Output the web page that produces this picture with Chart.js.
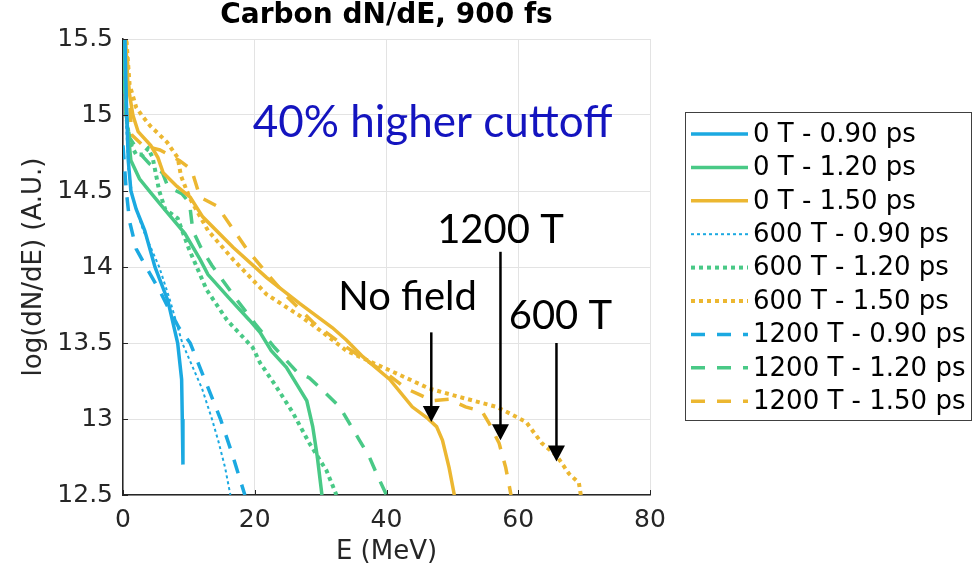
<!DOCTYPE html>
<html>
<head>
<meta charset="utf-8">
<script src="https://cdn.jsdelivr.net/npm/chart.js@4"></script>
<style>
  body { margin: 0; background: #fff; }
  canvas { display: block; }
</style>
</head>
<body>
<canvas id="graphe" width="973" height="571"></canvas>
<script>
// energies (MeV) and log(dN/dE), one pair of arrays per run
let e_0T_090 = [0, 0.3, 0.5, 0.8, 1.2, 2, 3.3, 4.85, 6.8, 8.3, 8.9, 9.0, 9.1];
let y_0T_090 = [15.9, 15.5, 15.1, 14.7, 14.5, 14.38, 14.24, 14.0, 13.78, 13.5, 13.26, 13.0, 12.7];

let e_0T_120 = [0, 0.3, 0.5, 1.2, 2.5, 4.2, 6.5, 9.4, 11.7, 12.9, 16, 19.2, 20.8, 22.5, 24.8, 26.5, 27.9, 28.8, 29.5, 30.2];
let y_0T_120 = [15.8, 15.3, 15.0, 14.7, 14.58, 14.49, 14.37, 14.22, 14.05, 13.95, 13.8, 13.65, 13.57, 13.45, 13.34, 13.22, 13.12, 12.95, 12.75, 12.5];

let e_0T_150 = [0, 0.4, 0.75, 1.5, 2.3, 4.2, 5.3, 6.1, 8.2, 10.2, 12.1, 16.7, 21.8, 26.8, 31.8, 33.9, 36.4, 40.5, 43.9, 46.1, 47.6, 48.5, 49.5, 50.3];
let y_0T_150 = [16.0, 15.5, 15.2, 15.0, 14.89, 14.8, 14.72, 14.62, 14.53, 14.46, 14.33, 14.13, 13.93, 13.76, 13.6, 13.52, 13.41, 13.26, 13.08, 13.01, 12.95, 12.86, 12.68, 12.5];

let e_600T_090 = [0, 0.4, 0.8, 1.5, 3, 5.5, 7, 9, 10.5, 12, 13.5, 14.5, 15.5, 16.3];
let y_600T_090 = [15.6, 15.0, 14.65, 14.45, 14.25, 14.0, 13.8, 13.5, 13.35, 13.2, 13.0, 12.85, 12.68, 12.5];

let e_600T_120 = [0, 0.5, 1, 2, 3, 3.8, 4.5, 5.5, 6.4, 8.3, 10, 12.7, 15.8, 19.7, 20.8, 23.3, 25.8, 28.3, 30.9, 32.4];
let y_600T_120 = [15.6, 15.0, 14.82, 14.74, 14.74, 14.78, 14.72, 14.5, 14.38, 14.32, 14.12, 13.85, 13.65, 13.47, 13.37, 13.21, 13.04, 12.84, 12.66, 12.5];

let e_600T_150 = [0, 0.5, 1, 2, 3, 4.1, 5.3, 6.7, 8.3, 8.8, 9.7, 10.3, 12.9, 16.7, 21.8, 26.8, 29.4, 33.9, 36.4, 41.5, 46.5, 51.5, 56.7, 59, 61.2, 63.6, 65.8, 67.7, 69.2, 69.5];
let y_600T_150 = [15.8, 15.5, 15.2, 15.05, 14.99, 14.93, 14.88, 14.82, 14.72, 14.6, 14.5, 14.44, 14.24, 14.05, 13.82, 13.68, 13.6, 13.45, 13.4, 13.3, 13.2, 13.14, 13.08, 13.03, 12.98, 12.84, 12.76, 12.64, 12.58, 12.5];

let e_1200T_090 = [0, 0.5, 1, 2, 3.5, 5.5, 7, 8.5, 10.2, 12.5, 14.8, 16.5, 18.5];
let y_1200T_090 = [14.8, 14.5, 14.3, 14.12, 14.0, 13.85, 13.72, 13.6, 13.5, 13.25, 13.0, 12.78, 12.5];

let e_1200T_120 = [0, 0.5, 1, 2.5, 4, 6, 6.8, 9, 10.1, 10.6, 11.8, 13.5, 17, 20, 23, 26.4, 28.3, 29.8, 32.9, 34.4, 35.9, 37.4, 38.6, 40];
let y_1200T_120 = [15.4, 15.0, 14.85, 14.75, 14.68, 14.62, 14.53, 14.48, 14.42, 14.24, 14.13, 14.01, 13.8, 13.63, 13.47, 13.31, 13.27, 13.21, 13.08, 12.97, 12.86, 12.75, 12.63, 12.5];

let e_1200T_150 = [0, 0.5, 1, 1.3, 3, 5.6, 8.6, 10.4, 11.7, 14.3, 16.7, 18.9, 21.8, 25, 29, 33, 36.4, 40, 43, 45, 47, 49.5, 52, 54.5, 55.6, 57.1, 58.1, 58.9];
let y_1200T_150 = [15.9, 15.5, 15.1, 14.87, 14.8, 14.77, 14.7, 14.64, 14.46, 14.4, 14.25, 14.11, 13.96, 13.8, 13.63, 13.5, 13.4, 13.3, 13.2, 13.16, 13.12, 13.13, 13.08, 13.05, 12.97, 12.84, 12.68, 12.5];

let labels = ["0 T - 0.90 ps", "0 T - 1.20 ps", "0 T - 1.50 ps",
              "600 T - 0.90 ps", "600 T - 1.20 ps", "600 T - 1.50 ps",
              "1200 T - 0.90 ps", "1200 T - 1.20 ps", "1200 T - 1.50 ps"];

let xTicks = [0, 20, 40, 60, 80];
let yTicks = [12.5, 13, 13.5, 14, 14.5, 15, 15.5];

// text and arrow annotations, in data units
let notes = [
  { text: "40% higher cuttoff", x: 47, y: 14.95, color: "#1414bf", size: 44 },
  { text: "No field", x: 43.2, y: 13.8, color: "#000", size: 40 },
  { text: "1200 T", x: 57.3, y: 14.24, color: "#000", size: 40 },
  { text: "600 T", x: 66.4, y: 13.68, color: "#000", size: 40 },
];
let arrows = [
  { x: 46.8, from: 13.57, to: 12.98 },
  { x: 57.3, from: 14.1, to: 12.86 },
  { x: 65.8, from: 13.5, to: 12.72 },
];

let bleu = "#1ba9e1";
let vert = "#49c986";
let jaune = "#ecb731";

function points(E, Y) {
  return E.map((e, i) => ({ x: e, y: Y[i] }));
}

let series = [
  [e_0T_090, y_0T_090, bleu, [], 3.5],
  [e_0T_120, y_0T_120, vert, [], 3.5],
  [e_0T_150, y_0T_150, jaune, [], 3.5],
  [e_600T_090, y_600T_090, bleu, [3, 3], 2],
  [e_600T_120, y_600T_120, vert, [4, 4], 4],
  [e_600T_150, y_600T_150, jaune, [4, 4], 4],
  [e_1200T_090, y_1200T_090, bleu, [14, 12], 3.5],
  [e_1200T_120, y_1200T_120, vert, [14, 12], 3.5],
  [e_1200T_150, y_1200T_150, jaune, [14, 12], 3.5],
];

let datasets = series.map((s, i) => ({
  label: labels[i],
  data: points(s[0], s[1]),
  borderColor: s[2],
  borderDash: s[3],
  borderWidth: s[4],
  pointRadius: 0,
  fill: false,
  tension: 0,
}));

let decor = {
  id: "decor",
  afterDraw(chart) {
    let ctx = chart.ctx;
    let xs = chart.scales.x;
    let ys = chart.scales.y;
    let area = chart.chartArea;
    ctx.save();

    // title
    ctx.fillStyle = "#000";
    ctx.font = "bold 28px 'DejaVu Sans'";
    ctx.textAlign = "center";
    ctx.textBaseline = "middle";
    ctx.fillText("Carbon dN/dE, 900 fs", (area.left + area.right) / 2, 16);

    notes.forEach((n) => {
      ctx.fillStyle = n.color;
      ctx.font = n.size + "px Lato";
      ctx.fillText(n.text, xs.getPixelForValue(n.x), ys.getPixelForValue(n.y));
    });

    arrows.forEach((a) => {
      let x = xs.getPixelForValue(a.x);
      let y1 = ys.getPixelForValue(a.from);
      let y2 = ys.getPixelForValue(a.to);
      ctx.strokeStyle = "#000";
      ctx.lineWidth = 2.5;
      ctx.beginPath();
      ctx.moveTo(x, y1);
      ctx.lineTo(x, y2 - 14);
      ctx.stroke();
      ctx.fillStyle = "#000";
      ctx.beginPath();
      ctx.moveTo(x - 8.5, y2 - 16);
      ctx.lineTo(x + 8.5, y2 - 16);
      ctx.lineTo(x, y2);
      ctx.closePath();
      ctx.fill();
    });

    // small inward ticks like the original axes
    ctx.strokeStyle = "#262626";
    ctx.lineWidth = 1;
    yTicks.forEach((v) => {
      let y = Math.round(ys.getPixelForValue(v)) + 0.5;
      ctx.beginPath();
      ctx.moveTo(area.left, y);
      ctx.lineTo(area.left + 5, y);
      ctx.stroke();
    });
    xTicks.forEach((v) => {
      let x = Math.round(xs.getPixelForValue(v)) + 0.5;
      ctx.beginPath();
      ctx.moveTo(x, area.bottom);
      ctx.lineTo(x, area.bottom - 5);
      ctx.stroke();
    });

    // legend box
    ctx.fillStyle = "#fff";
    ctx.fillRect(685.5, 112.5, 286, 308);
    ctx.strokeStyle = "#404040";
    ctx.lineWidth = 1;
    ctx.strokeRect(685.5, 112.5, 286, 308);
    ctx.textAlign = "left";
    chart.data.datasets.forEach((ds, i) => {
      let y = 134 + i * 33.4;
      ctx.strokeStyle = ds.borderColor;
      ctx.lineWidth = ds.borderWidth;
      ctx.setLineDash(ds.borderDash);
      ctx.beginPath();
      ctx.moveTo(691, y);
      ctx.lineTo(748, y);
      ctx.stroke();
      ctx.setLineDash([]);
      ctx.fillStyle = "#000";
      ctx.font = "26px 'DejaVu Sans'";
      ctx.fillText(ds.label, 753, y + 1);
    });
    ctx.restore();
  },
};

let graph = document.getElementById("graphe");
let myChart = new Chart(graph, {
  type: "line",
  data: { datasets: datasets },
  plugins: [decor],
  options: {
    responsive: false,
    animation: false,
    devicePixelRatio: 1,
    layout: { padding: { left: 19, top: 39, right: 323, bottom: 3 } },
    plugins: {
      legend: { display: false },
      title: { display: false },
      tooltip: { enabled: false },
    },
    scales: {
      x: {
        type: "linear",
        min: 0,
        max: 80,
        afterFit: (s) => { s.height = 73; },
        afterBuildTicks: (s) => { s.ticks = xTicks.map((v) => ({ value: v })); },
        ticks: { color: "#262626", font: { family: "DejaVu Sans", size: 25 }, padding: 10, maxRotation: 0 },
        grid: { color: "#e3e3e3", drawTicks: false },
        border: { color: "#262626", width: 1.5 },
        title: { display: true, text: "E (MeV)", color: "#262626", font: { family: "DejaVu Sans", size: 26 }, padding: 0 },
      },
      y: {
        type: "linear",
        min: 12.5,
        max: 15.5,
        afterFit: (s) => { s.width = 104; },
        afterBuildTicks: (s) => { s.ticks = yTicks.map((v) => ({ value: v })); },
        ticks: { color: "#262626", font: { family: "DejaVu Sans", size: 25 }, padding: 10, callback: (v) => String(v) },
        grid: { color: "#e3e3e3", drawTicks: false },
        border: { color: "#262626", width: 1.5 },
        title: { display: true, text: "log(dN/dE) (A.U.)", color: "#262626", font: { family: "DejaVu Sans", size: 26 }, padding: 0 },
      },
    },
  },
});
</script>
</body>
</html>
